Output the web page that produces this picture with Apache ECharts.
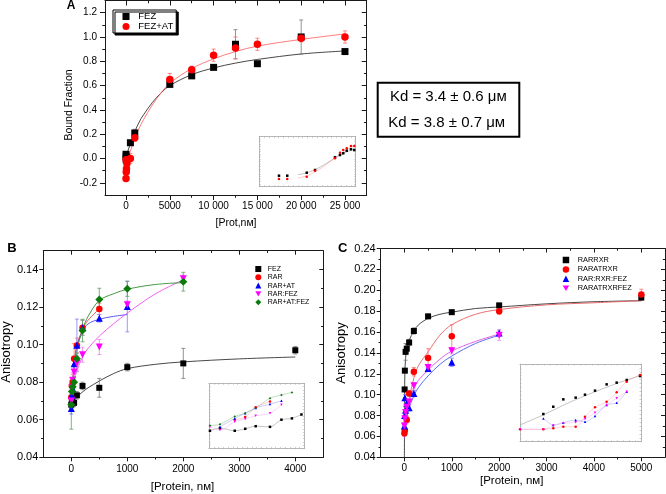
<!DOCTYPE html>
<html><head><meta charset="utf-8">
<script src="https://cdn.jsdelivr.net/npm/echarts@6/dist/echarts.min.js"></script>
<style>html,body{margin:0;padding:0;background:#fff}#c{width:666px;height:494px}</style>
</head><body><div id="c"></div>
<script>
// ---------- Panel A data ----------
const aFezX = [0, 10, 25, 500, 1000, 5000, 7500, 10000, 12500, 15000, 20000, 25000];
const aFezY = [0.035, 0.013, -0.01, 0.13, 0.21, 0.61, 0.68, 0.75, 0.94, 0.78, 1.0, 0.88];
const aFezE = [0.01, 0.01, 0.01, 0.01, 0.03, 0.02, 0.02, 0.015, 0.12, 0.015, 0.14, 0.01];
const aFezAtX = [0, 25, 50, 100, 10, 500, 1000, 5000, 7500, 10000, 12500, 15000, 20000, 25000];
const aFezAtY = [-0.165, -0.11, -0.085, -0.04, -0.01, 0.0, 0.17, 0.65, 0.73, 0.85, 0.91, 0.94, 0.99, 1.0];
const aFezAtE = [0.02, 0.02, 0.02, 0.02, 0.01, 0.04, 0.03, 0.05, 0.03, 0.05, 0.09, 0.05, 0.03, 0.05];
const aFitX = [0, 250, 500, 1000, 1500, 2000, 3000, 4000, 5000, 7500, 10000, 12500, 15000, 20000, 25000];
const aFezFit = [-0.01, 0.07, 0.12, 0.22, 0.3, 0.36, 0.46, 0.54, 0.60, 0.69, 0.745, 0.785, 0.815, 0.86, 0.885];
const aFezAtFit = [-0.06, 0.0, 0.06, 0.17, 0.25, 0.32, 0.44, 0.54, 0.62, 0.74, 0.82, 0.88, 0.925, 0.98, 1.025];
const aXTicks = [0, 5000, 10000, 15000, 20000, 25000];
const aXMinor = [2500, 7500, 12500, 17500, 22500];
const aYTicks = [-0.2, 0, 0.2, 0.4, 0.6, 0.8, 1.0, 1.2];
const aYMinor = [-0.1, 0.1, 0.3, 0.5, 0.7, 0.9, 1.1];
const kdLines = ['Kd = 3.4 \u00b1 0.6 \u03bc\u043c', 'Kd = 3.8 \u00b1 0.7 \u03bc\u043c'];
// inset A (relative units 0-100)
const insAU = [20.4, 29, 49.2, 57.8, 78.5, 83.7, 87.1, 90.7, 95.1, 98.5];
const insAFezW = [22, 22, 28, 33.4, 58.8, 63.4, 66.8, 72, 74.8, 73.4];
const insAFezAtW = [15.4, 15.4, 20, 32, 56.8, 68, 73.4, 76.8, 81.4, 81.4];
const insAFitU = [40, 50, 60, 70, 80, 90, 99];
const insAFezFit = [24, 28, 36, 47, 59, 69, 76];
const insAFezAtFit = [17, 22, 32, 45, 60, 73, 83];

// ---------- Panel B data ----------
const bFezX = [0, 10, 50, 100, 200, 500, 1000, 2000, 4000];
const bFezY = [0.068, 0.070, 0.069, 0.073, 0.078, 0.077, 0.088, 0.090, 0.097];
const bFezE = [0.002, 0.002, 0.002, 0.002, 0.002, 0.005, 0.002, 0.008, 0.002];
const bRarX = [0, 10, 25, 50, 100, 200, 500];
const bRarY = [0.072, 0.078, 0.080, 0.0925, 0.0995, 0.109, 0.119];
const bRarE = [0.003, 0.004, 0.004, 0.008, 0.004, 0.004, 0.003];
const bRarAtX = [0, 10, 25, 50, 100, 200, 500, 1000];
const bRarAtY = [0.066, 0.073, 0.0766, 0.0898, 0.0996, 0.109, 0.114, 0.1203];
const bRarAtE = [0.003, 0.003, 0.003, 0.004, 0.014, 0.004, 0.002, 0.0135];
const bRarFezX = [0, 10, 25, 50, 100, 200, 500, 1000, 2000];
const bRarFezY = [0.07, 0.077, 0.081, 0.0854, 0.0899, 0.0946, 0.0987, 0.1212, 0.135];
const bRarFezE = [0.003, 0.003, 0.004, 0.004, 0.004, 0.004, 0.004, 0.002, 0.002];
const bRarAtFezX = [0, 10, 25, 50, 100, 200, 500, 1000, 2000];
const bRarAtFezY = [0.068, 0.075, 0.0775, 0.080, 0.0925, 0.1075, 0.124, 0.1297, 0.1335];
const bRarAtFezE = [0.013, 0.003, 0.003, 0.003, 0.003, 0.006, 0.006, 0.004, 0.005];
const bFezFitX = [0, 50, 100, 200, 300, 500, 750, 1000, 1500, 2000, 3000, 4000];
const bFezFitY = [0.068, 0.070, 0.072, 0.0748, 0.077, 0.0806, 0.0845, 0.0872, 0.0895, 0.0908, 0.0924, 0.0934];
const bRarFitX = [0, 25, 50, 100, 200, 300, 500];
const bRarFitY = [0.068, 0.080, 0.090, 0.0995, 0.108, 0.113, 0.119];
const bRarAtFitX = [0, 25, 50, 100, 200, 300, 500, 750, 1000];
const bRarAtFitY = [0.066, 0.080, 0.089, 0.099, 0.107, 0.111, 0.1135, 0.115, 0.116];
const bRarFezFitX = [0, 50, 100, 200, 300, 500, 750, 1000, 1500, 2000];
const bRarFezFitY = [0.070, 0.081, 0.086, 0.0935, 0.098, 0.1045, 0.111, 0.1168, 0.127, 0.1345];
const bRarAtFezFitX = [0, 50, 100, 200, 300, 500, 750, 1000, 1500, 2000];
const bRarAtFezFitY = [0.068, 0.088, 0.097, 0.108, 0.115, 0.1235, 0.127, 0.1295, 0.132, 0.133];
const bXTicks = [0, 1000, 2000, 3000, 4000];
const bXMinor = [500, 1500, 2500, 3500];
const bYTicks = [0.04, 0.06, 0.08, 0.10, 0.12, 0.14];
const bYMinor = [0.05, 0.07, 0.09, 0.11, 0.13];
// inset B
const insBFezU = [1, 11.5, 27, 38, 49, 64, 76, 87, 97];
const insBFezW = [27, 31, 27, 30, 34, 33, 44, 46, 52];
const insBGreenU = [1, 11.5, 27, 38, 49, 64, 76, 87];
const insBGreenW = [35, 37, 49, 54, 62, 77, 82, 86];
const insBBlueU = [11.5, 27, 38, 49, 64, 76];
const insBBlueW = [33, 46, 54, 62, 68, 73];
const insBMagU = [1, 11.5, 27, 38, 49, 64, 76];
const insBMagW = [33, 28, 41, 45, 50, 54, 67];
const insBRedU = [27, 38, 49, 64];
const insBRedW = [44, 48, 63, 72];

// ---------- Panel C data ----------
const cRxrX = [5, 10, 25, 50, 100, 200, 500, 1000, 2000, 5000];
const cRxrY = [0.105, 0.123, 0.141, 0.144, 0.150, 0.161, 0.175, 0.179, 0.1855, 0.193];
const cRxrE = [0.002, 0.002, 0.008, 0.004, 0.003, 0.003, 0.002, 0.002, 0.002, 0.002];
const cAtRxrX = [0, 10, 50, 100, 200, 500, 1000, 2000, 5000];
const cAtRxrY = [0.063, 0.066, 0.076, 0.101, 0.122, 0.135, 0.156, 0.180, 0.196];
const cAtRxrE = [0.003, 0.003, 0.003, 0.003, 0.004, 0.009, 0.011, 0.003, 0.005];
const cRxrFezX = [0, 5, 10, 25, 50, 100, 200, 500, 1000, 2000];
const cRxrFezY = [0.070, 0.080, 0.097, 0.085, 0.0917, 0.0875, 0.101, 0.125, 0.131, 0.159];
const cRxrFezE = [0.003, 0.003, 0.003, 0.003, 0.003, 0.003, 0.003, 0.003, 0.004, 0.003];
const cAtRxrFezX = [0, 10, 25, 50, 100, 200, 500, 1000, 2000];
const cAtRxrFezY = [0.070, 0.077, 0.083, 0.088, 0.093, 0.1085, 0.126, 0.142, 0.157];
const cAtRxrFezE = [0.003, 0.003, 0.003, 0.003, 0.003, 0.003, 0.003, 0.003, 0.005];
const cRxrFitX = [0, 5, 10, 25, 50, 100, 200, 300, 500, 750, 1000, 1500, 2000, 3000, 4000, 5000];
const cRxrFitY = [0.04, 0.10, 0.12, 0.135, 0.144, 0.152, 0.161, 0.167, 0.173, 0.177, 0.179, 0.1825, 0.184, 0.187, 0.189, 0.190];
const cAtRxrFitX = [0, 50, 100, 200, 300, 500, 750, 1000, 1500, 2000, 3000, 4000, 5000];
const cAtRxrFitY = [0.058, 0.078, 0.095, 0.116, 0.128, 0.141, 0.157, 0.167, 0.177, 0.1815, 0.186, 0.188, 0.190];
const cRxrFezFitX = [0, 50, 100, 200, 300, 500, 750, 1000, 1500, 2000];
const cRxrFezFitY = [0.058, 0.078, 0.087, 0.099, 0.107, 0.118, 0.129, 0.137, 0.149, 0.157];
const cAtRxrFezFitX = [0, 50, 100, 200, 300, 500, 750, 1000, 1500, 2000];
const cAtRxrFezFitY = [0.062, 0.085, 0.094, 0.106, 0.114, 0.1235, 0.134, 0.1417, 0.151, 0.158];
const cXTicks = [0, 1000, 2000, 3000, 4000, 5000];
const cXMinor = [500, 1500, 2500, 3500, 4500];
const cYTicks = [0.04, 0.06, 0.08, 0.10, 0.12, 0.14, 0.16, 0.18, 0.20, 0.22, 0.24];
const cYMinor = [0.05, 0.07, 0.09, 0.11, 0.13, 0.15, 0.17, 0.19, 0.21, 0.23];
// inset C
const insCBlkU = [19.3, 27.5, 35.8, 46, 53.7, 62, 71.6, 79.9, 88.2, 99.2];
const insCBlkW = [35.6, 45, 54.5, 56.7, 60.5, 65.7, 73.8, 76, 79.4, 84.5];
const insCBlkFitU = [0, 20, 40, 60, 80, 99];
const insCBlkFitW = [21.5, 35, 50, 63, 75, 85];
const insCRedU = [0, 19.3, 27.5, 35.8, 46, 53.7, 62, 71.6, 79.9, 88.2, 99.2];
const insCRedW = [15.9, 15.9, 17.2, 19.3, 19.3, 32.2, 44.2, 51.5, 63.5, 77.3, 85.8];
const insCBlueU = [19.3, 27.5, 35.8, 46, 53.7, 62, 71.6, 79.9, 88.2];
const insCBlueW = [30, 21.5, 24.5, 27.9, 25.8, 33, 47.2, 50.2, 64.4];
const insCMagU = [0, 19.3, 27.5, 35.8, 46, 53.7, 62, 71.6, 79.9, 88.2];
const insCMagW = [15.9, 15.9, 20.6, 23.6, 24.9, 29.2, 37.3, 47.2, 55.8, 64.4];

// ---------- build ----------
const FONT = "'Liberation Sans', Arial, sans-serif";
const AX = '#1a1a1a';
const DOWN_TRI = 'path://M0,0L2,0L1,1.732Z';
const zip = (xs, ys) => xs.map((x, i) => [x, ys[i]]);
const xAxes = [], yAxes = [];

function frame(gi, xr, yr, tickLen) {
  const xi = xAxes.length, yi = yAxes.length;
  const ls = { color: AX, width: 1 };
  const mk = (pos, r, vals, len, inside, line, label) => ({
    gridIndex: gi, type: 'value', min: r.min, max: r.max, position: pos,
    splitLine: { show: false },
    axisLine: { show: line, onZero: false, lineStyle: ls },
    axisTick: { show: true, inside: inside, length: len, customValues: vals, lineStyle: ls },
    axisLabel: label ? { show: true, customValues: vals, formatter: r.fmt, fontSize: r.font,
      fontFamily: FONT, color: '#000', margin: r.margin } : { show: false }
  });
  xAxes.push(mk('bottom', xr, xr.major, tickLen, false, true, true));
  xAxes.push(mk('bottom', xr, xr.minor, tickLen * 0.55, false, false, false));
  xAxes.push(mk('top', xr, xr.major, tickLen, true, true, false));
  xAxes.push(mk('top', xr, xr.minor, tickLen * 0.55, true, false, false));
  yAxes.push(mk('left', yr, yr.major, tickLen, false, true, true));
  yAxes.push(mk('left', yr, yr.minor, tickLen * 0.55, false, false, false));
  yAxes.push(mk('right', yr, yr.major, tickLen, true, true, false));
  yAxes.push(mk('right', yr, yr.minor, tickLen * 0.55, true, false, false));
  return { x: xi, y: yi };
}
function insetFrame(gi) {
  const xi = xAxes.length, yi = yAxes.length;
  const ls = { color: '#9a9a9a', width: 0.8, type: 'dotted' };
  const mk = (pos) => ({
    gridIndex: gi, type: 'value', min: 0, max: 100, interval: 5, position: pos,
    splitLine: { show: false },
    axisLine: { show: true, onZero: false, lineStyle: ls },
    axisTick: { show: true, inside: true, length: 1.5, lineStyle: { color: '#b0b0b0', width: 0.6 } },
    axisLabel: { show: false }
  });
  xAxes.push(mk('bottom')); xAxes.push(mk('top'));
  yAxes.push(mk('left')); yAxes.push(mk('right'));
  return { x: xi, y: yi };
}

const fmtThousand = v => v >= 10000 ? (v / 1000) + ' 000' : String(v);
const A = frame(0,
  { min: -2400, max: 27480, major: aXTicks, minor: aXMinor, fmt: fmtThousand, font: 10, margin: 6 },
  { min: -0.3, max: 1.3, major: aYTicks, minor: aYMinor, fmt: v => v.toFixed(1), font: 10, margin: 8 }, 5);
const B = frame(1,
  { min: -500, max: 4500, major: bXTicks, minor: bXMinor, fmt: v => String(v), font: 10, margin: 7 },
  { min: 0.04, max: 0.15, major: bYTicks, minor: bYMinor, fmt: v => v.toFixed(2), font: 11, margin: 5 }, 4);
const C = frame(2,
  { min: -500, max: 5500, major: cXTicks, minor: cXMinor, fmt: v => String(v), font: 10, margin: 6 },
  { min: 0.04, max: 0.24, major: cYTicks, minor: cYMinor, fmt: v => v.toFixed(2), font: 11, margin: 5 }, 4);
const IA = insetFrame(3), IB = insetFrame(4), IC = insetFrame(5);

function fit(ax, xs, ys, color, w) {
  return { type: 'line', xAxisIndex: ax.x, yAxisIndex: ax.y, data: zip(xs, ys), showSymbol: false,
    smooth: 0.35, lineStyle: { color: color, width: w || 0.9 }, z: 1, silent: true, clip: true };
}
function err(ax, xs, ys, es, color) {
  return { type: 'custom', xAxisIndex: ax.x, yAxisIndex: ax.y, z: 2, silent: true, clip: true,
    encode: { x: 0, y: 1 },
    data: xs.map((x, i) => [x, ys[i], es[i]]),
    renderItem: function (params, api) {
      const x = api.value(0), y = api.value(1), e = api.value(2);
      const lo = api.coord([x, y - e]), hi = api.coord([x, y + e]);
      const w = 2;
      const st = { stroke: color, lineWidth: 0.8 };
      return { type: 'group', children: [
        { type: 'line', shape: { x1: lo[0], y1: lo[1], x2: hi[0], y2: hi[1] }, style: st },
        { type: 'line', shape: { x1: lo[0] - w, y1: lo[1], x2: lo[0] + w, y2: lo[1] }, style: st },
        { type: 'line', shape: { x1: hi[0] - w, y1: hi[1], x2: hi[0] + w, y2: hi[1] }, style: st }
      ] };
    } };
}
function pts(ax, name, xs, ys, symbol, size, color) {
  return { type: 'scatter', name: name, xAxisIndex: ax.x, yAxisIndex: ax.y, data: zip(xs, ys),
    symbol: symbol, symbolSize: size, itemStyle: { color: color, opacity: 1 }, z: 3, clip: true };
}
function ins(ax, xs, ys, symbol, color, lineColor) {
  return { type: 'line', xAxisIndex: ax.x, yAxisIndex: ax.y, data: zip(xs, ys), symbol: symbol,
    symbolSize: 2.5, showSymbol: true, smooth: 0.3, itemStyle: { color: color },
    lineStyle: { color: lineColor || color, width: 0.5, opacity: lineColor === 'none' ? 0 : 0.7 },
    z: 3, silent: true };
}

const series = [
  // A
  fit(A, aFitX, aFezFit, '#333333', 0.9),
  fit(A, aFitX, aFezAtFit, '#ff5a5a', 0.8),
  err(A, aFezX, aFezY, aFezE, '#777777'),
  err(A, aFezAtX, aFezAtY, aFezAtE, '#ff6a6a'),
  pts(A, 'FEZ', aFezX, aFezY, 'rect', 7, '#000000'),
  pts(A, 'FEZ+AT', aFezAtX, aFezAtY, 'circle', 7.5, '#ff0000'),
  // B
  fit(B, bFezFitX, bFezFitY, '#333333'),
  fit(B, bRarFitX, bRarFitY, '#e84848'),
  fit(B, bRarAtFitX, bRarAtFitY, '#4a4ae8'),
  fit(B, bRarFezFitX, bRarFezFitY, '#f050f0'),
  fit(B, bRarAtFezFitX, bRarAtFezFitY, '#2f8f2f'),
  err(B, bFezX, bFezY, bFezE, '#777777'),
  err(B, bRarX, bRarY, bRarE, '#ff7070'),
  err(B, bRarAtX, bRarAtY, bRarAtE, '#8080ee'),
  err(B, bRarFezX, bRarFezY, bRarFezE, '#f080f0'),
  err(B, bRarAtFezX, bRarAtFezY, bRarAtFezE, '#60a060'),
  pts(B, 'FEZ', bFezX, bFezY, 'rect', 6, '#000000'),
  pts(B, 'RAR', bRarX, bRarY, 'circle', 6.5, '#ff0000'),
  pts(B, 'RAR+AT', bRarAtX, bRarAtY, 'triangle', 7, '#0000ff'),
  pts(B, 'RAR:FEZ', bRarFezX, bRarFezY, DOWN_TRI, 7, '#ff00ff'),
  pts(B, 'RAR+AT:FEZ', bRarAtFezX, bRarAtFezY, 'diamond', 8, '#0a7a0a'),
  // C
  fit(C, cRxrFitX, cRxrFitY, '#333333'),
  fit(C, cAtRxrFitX, cAtRxrFitY, '#e86060'),
  fit(C, cRxrFezFitX, cRxrFezFitY, '#4a5af0'),
  fit(C, cAtRxrFezFitX, cAtRxrFezFitY, '#e050e0'),
  err(C, cRxrX, cRxrY, cRxrE, '#777777'),
  err(C, cAtRxrX, cAtRxrY, cAtRxrE, '#ff7070'),
  err(C, cRxrFezX, cRxrFezY, cRxrFezE, '#8080ee'),
  err(C, cAtRxrFezX, cAtRxrFezY, cAtRxrFezE, '#f080f0'),
  pts(C, 'RARRXR', cRxrX, cRxrY, 'rect', 6, '#000000'),
  pts(C, 'RARATRXR', cAtRxrX, cAtRxrY, 'circle', 6.5, '#ff0000'),
  pts(C, 'RAR:RXR:FEZ', cRxrFezX, cRxrFezY, 'triangle', 7, '#0000ff'),
  pts(C, 'RARATRXRFEZ', cAtRxrFezX, cAtRxrFezY, DOWN_TRI, 7, '#ff00ff'),
  // insets
  ins(IA, insAFitU, insAFezFit, 'none', '#555555'),
  ins(IA, insAFitU, insAFezAtFit, 'none', '#ff6a6a'),
  ins(IA, insAU, insAFezW, 'rect', '#000000', 'none'),
  ins(IA, insAU, insAFezAtW, 'circle', '#ff0000', 'none'),
  ins(IB, insBFezU, insBFezW, 'rect', '#000000', '#555555'),
  ins(IB, insBRedU, insBRedW, 'circle', '#ff0000', '#ff7070'),
  ins(IB, insBBlueU, insBBlueW, 'triangle', '#0000ff', '#6a6aee'),
  ins(IB, insBMagU, insBMagW, DOWN_TRI, '#ff00ff', '#f080f0'),
  ins(IB, insBGreenU, insBGreenW, 'diamond', '#0a7a0a', '#50a050'),
  ins(IC, insCBlkFitU, insCBlkFitW, 'none', '#555555'),
  ins(IC, insCBlkU, insCBlkW, 'rect', '#000000', 'none'),
  ins(IC, insCRedU, insCRedW, 'circle', '#ff0000', '#ff8080'),
  ins(IC, insCBlueU, insCBlueW, 'triangle', '#0000ff', '#7a7aee'),
  ins(IC, insCMagU, insCMagW, DOWN_TRI, '#ff00ff', '#f090f0')
];

const txt = (text, x, y, size, opts) => Object.assign({
  type: 'text', x: x, y: y, silent: true,
  style: Object.assign({ text: text, fontSize: size, fontFamily: FONT, fill: '#000', align: 'center', verticalAlign: 'middle' }, (opts && opts.style) || {})
}, opts && opts.rotation ? { rotation: opts.rotation } : {});

const option = {
  animation: false,
  backgroundColor: '#ffffff',
  grid: [
    { left: 105, top: 0.5, width: 261.7, height: 194.5 },
    { left: 43.3, top: 250.7, width: 280, height: 206.6 },
    { left: 380.7, top: 248.5, width: 284.3, height: 208.8 },
    { left: 259.3, top: 136.7, width: 96.4, height: 50 },
    { left: 209, top: 383.3, width: 95.3, height: 65 },
    { left: 520, top: 364, width: 121, height: 77.7 }
  ],
  xAxis: xAxes,
  yAxis: yAxes,
  legend: [
    { orient: 'vertical', left: 113, top: 10, data: ['FEZ', 'FEZ+AT'], itemWidth: 7, itemHeight: 7,
      itemGap: 0, padding: [1.5, 3, 1.5, 9.5], borderColor: '#000', borderWidth: 1, borderRadius: 0,
      backgroundColor: '#fff', shadowColor: '#000', shadowBlur: 0, shadowOffsetX: 2, shadowOffsetY: 2,
      selectedMode: false,
      textStyle: { fontSize: 9.5, fontFamily: FONT, color: '#000', lineHeight: 10, padding: [0, 0, 0, 3.8] } },
    { orient: 'vertical', left: 255.3, top: 265, data: ['FEZ', 'RAR', 'RAR+AT', 'RAR:FEZ', 'RAR+AT:FEZ'],
      itemWidth: 6, itemHeight: 6, itemGap: 0.3, padding: 0, selectedMode: false,
      textStyle: { fontSize: 7, fontFamily: FONT, color: '#000', lineHeight: 8, padding: [0, 0, 0, 1.4] } },
    { orient: 'vertical', left: 562.7, top: 256, data: ['RARRXR', 'RARATRXR', 'RAR:RXR:FEZ', 'RARATRXRFEZ'],
      itemWidth: 6.5, itemHeight: 6.5, itemGap: 1.4, padding: 0, selectedMode: false,
      textStyle: { fontSize: 7.4, fontFamily: FONT, color: '#000', lineHeight: 8, padding: [0, 0, 0, 3.5] } }
  ],
  series: series,
  graphic: [
    { type: 'rect', shape: { x: 377.7, y: 82.7, width: 141.6, height: 54 }, silent: true,
      style: { fill: '#fff', stroke: '#000', lineWidth: 2 } },
    txt(kdLines[0], 448.3, 96.7, 15),
    txt(kdLines[1], 446.7, 123.3, 15),
    txt('A', 71, 6, 12, { style: { fontWeight: 'bold' } }),
    txt('B', 12, 248.3, 13, { style: { fontWeight: 'bold' } }),
    txt('C', 342.7, 248.3, 13, { style: { fontWeight: 'bold' } }),
    txt('Bound Fraction', 68.8, 105, 10.5, { rotation: Math.PI / 2 }),
    txt('[Prot,n\u043c]', 236, 223, 10.5),
    txt('Anisotropy', 6, 352, 13, { rotation: Math.PI / 2 }),
    txt('[Protein, n\u043c]', 182.5, 486.7, 11.5),
    txt('Anisotropy', 341.5, 353, 13, { rotation: Math.PI / 2 }),
    txt('[Protein, n\u043c]', 511.7, 481, 11.5)
  ]
};
const chart = echarts.init(document.getElementById('c'), null, { renderer: 'canvas' });
chart.setOption(option);
</script></body></html>
